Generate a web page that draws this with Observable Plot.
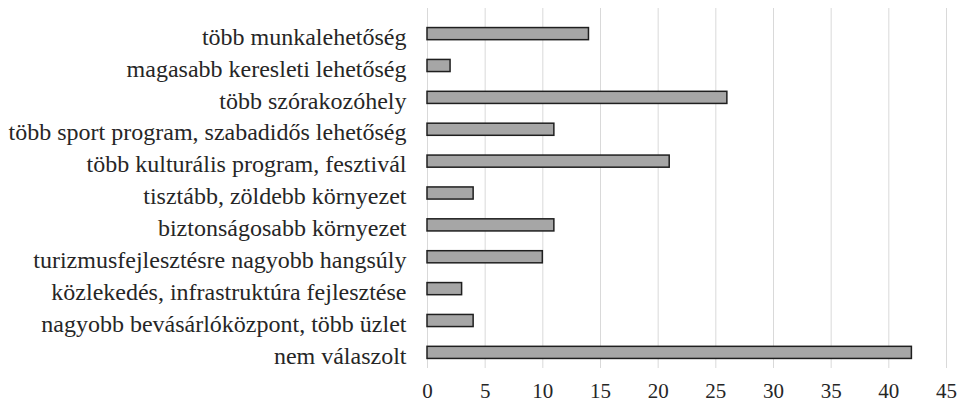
<!DOCTYPE html>
<html>
<head>
<meta charset="utf-8">
<script src="https://cdn.jsdelivr.net/npm/d3@7"></script>
<script src="https://cdn.jsdelivr.net/npm/@observablehq/plot@0.6"></script>
<style>
  html, body { margin: 0; padding: 0; background: #fff; }
  #chart svg text { font-family: "Liberation Serif", "DejaVu Serif", serif; }
</style>
</head>
<body>
<div id="chart"></div>
<script>
// Survey answers, top to bottom
const categories = [
  "több munkalehetőség",
  "magasabb keresleti lehetőség",
  "több szórakozóhely",
  "több sport program, szabadidős lehetőség",
  "több kulturális program, fesztivál",
  "tisztább, zöldebb környezet",
  "biztonságosabb környezet",
  "turizmusfejlesztésre nagyobb hangsúly",
  "közlekedés, infrastruktúra fejlesztése",
  "nagyobb bevásárlóközpont, több üzlet",
  "nem válaszolt"
];
const values = [14, 2, 26, 11, 21, 4, 11, 10, 3, 4, 42];
const xTicks = [0, 5, 10, 15, 20, 25, 30, 35, 40, 45];

const data = categories.map((category, i) => ({category, value: values[i]}));

const chart = Plot.plot({
  width: 958,
  height: 403,
  marginLeft: 427,
  marginRight: 12,
  marginTop: 8,
  marginBottom: 35,
  style: {fontFamily: "Liberation Serif", fontSize: "24px", color: "#262626", background: "#fff"},
  x: {domain: [0, 45]},
  y: {domain: categories, paddingInner: 0.62, paddingOuter: 0.3, insetTop: 10, round: false},
  marks: [
    Plot.gridX(xTicks, {stroke: "#d9d9d9", strokeOpacity: 1, strokeWidth: 1}),
    Plot.barX(data, {x: "value", y: "category", fill: "#a6a6a6", stroke: "#1f1f1f", strokeWidth: 1.5}),
    Plot.axisX(xTicks, {tickSize: 0, tickPadding: 15, label: null, fontSize: 21}),
    Plot.axisY({tickSize: 0, tickPadding: 21, label: null, fontSize: 24, dy: 3})
  ]
});
d3.select(chart).selectAll("text").style("font-family", "'Liberation Serif', serif");
document.getElementById("chart").appendChild(chart);
</script>
</body>
</html>
